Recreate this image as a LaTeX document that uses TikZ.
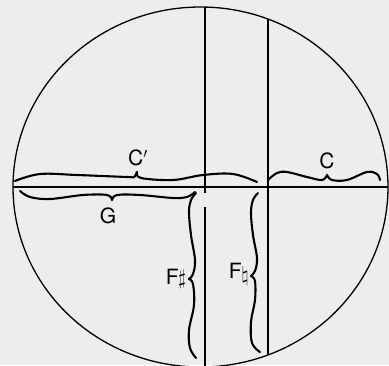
\documentclass[tikz,border=0pt]{standalone}
\usepackage{amsmath}
\usepackage{fontspec}
\setmainfont{TeX Gyre Heros}
\begin{document}
\begin{tikzpicture}[x=1pt,y=-1pt,
  lbl/.style={font=\fontsize{21}{24}\selectfont, inner sep=0pt},
  thin line/.style={line width=1.3pt},
  bracecurve/.style={line width=2.1pt, line cap=round, line join=round}]
\useasboundingbox (0,0) rectangle (389,365);
\fill[black!7] (0,0) rectangle (389,365);
\clip (0,0) rectangle (389,365);
% circle
\draw[thin line] (200.5,187) ellipse [x radius=187.5, y radius=180];
% horizontal line
\coordinate (hl) at (13,187);
\coordinate (hr) at (388,187);
\draw[thin line] (hl) -- (hr);
% vertical lines
\coordinate (v1t) at (205,7);
\coordinate (v1m) at (205,193);
\coordinate (v1b1) at (205,207);
\coordinate (v1b2) at (205,370);
\draw[thin line] (v1t) -- (v1m);
\draw[thin line] (v1b1) -- (v1b2);
\coordinate (v2t) at (268,19);
\coordinate (v2b) at (268,355);
\draw[thin line] (v2t) -- (v2b);
% C' brace
\draw[bracecurve] plot[smooth, tension=0.6] coordinates {(15,181) (40,174) (77,175) (127,177) (134,177) (137,172)};
\draw[bracecurve] plot[smooth, tension=0.6] coordinates {(137,172) (141,178) (173,180) (203,175) (233,174) (257,182)};
% C brace
\draw[bracecurve] plot[smooth, tension=0.6] coordinates {(268,180) (277,173) (287,172) (307,177) (322,180) (327,175)};
\draw[bracecurve] plot[smooth, tension=0.6] coordinates {(327,175) (332,180) (347,180) (367,172) (377,174) (380,180)};
% G brace
\draw[bracecurve] plot[smooth, tension=0.6] coordinates {(20,191) (30,197) (50,199) (83,195) (107,195) (112,200)};
\draw[bracecurve] plot[smooth, tension=0.6] coordinates {(112,200) (117,195) (140,195) (173,198) (187,197) (195,192)};
% F sharp brace
\draw[bracecurve] plot[smooth, tension=0.6] coordinates {(196,193) (191,200) (189,212) (191,235) (195,260) (193,274) (189,279)};
\draw[bracecurve] plot[smooth, tension=0.6] coordinates {(189,279) (193,284) (194,305) (189,330) (190,348) (196,358)};
% F natural brace
\draw[bracecurve] plot[smooth, tension=0.6] coordinates {(258,193) (253,200) (251,213) (253,235) (257,258) (255,271) (251,276)};
\draw[bracecurve] plot[smooth, tension=0.6] coordinates {(251,276) (255,281) (255,300) (251,322) (252,343) (260,352)};
% labels
\node[lbl] (Cp) at (138,158) {C$'$};
\node[lbl] (C) at (327,161) {C};
\node[lbl] (G) at (108,216) {G};
\node[lbl] (Fs) at (176,279) {F\kern-0.5pt\raisebox{0pt}{\fontsize{20}{20}\selectfont$\sharp$}};
\node[lbl] (Fn) at (239,274) {F\kern-0.5pt\raisebox{-3pt}{\fontsize{20}{20}\selectfont$\natural$}};
\end{tikzpicture}
\end{document}
